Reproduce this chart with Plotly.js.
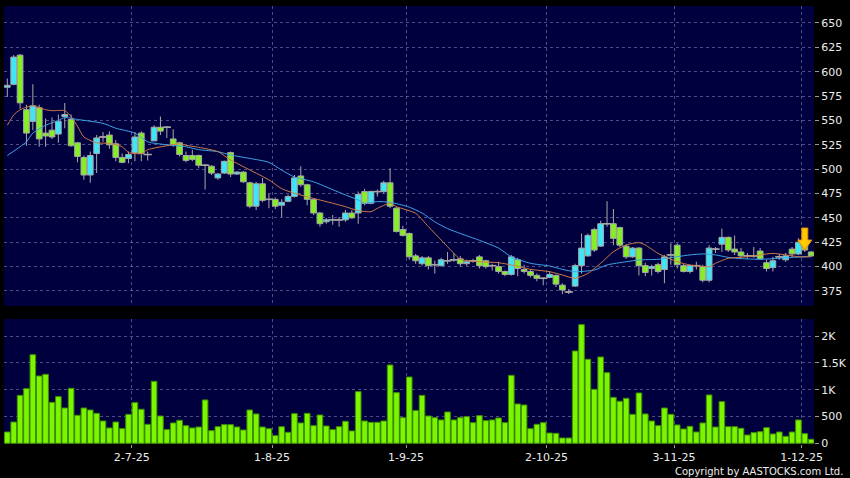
<!DOCTYPE html>
<html>
<head>
<meta charset="utf-8">
<script src="https://cdn.plot.ly/plotly-3.0.1.min.js"></script>
<style>html,body{margin:0;padding:0;background:#000;}#chart{width:850px;height:478px;}</style>
</head>
<body>
<div id="chart"></div>
<script>
// Trading days (HKEX), 3 Jun 2025 – 2 Dec 2025
const dates = [
 '2025-06-03','2025-06-04','2025-06-05','2025-06-06','2025-06-09','2025-06-10','2025-06-11','2025-06-12','2025-06-13','2025-06-16',
 '2025-06-17','2025-06-18','2025-06-19','2025-06-20','2025-06-23','2025-06-24','2025-06-25','2025-06-26','2025-06-27','2025-06-30',
 '2025-07-02','2025-07-03','2025-07-04','2025-07-07','2025-07-08','2025-07-09','2025-07-10','2025-07-11','2025-07-14','2025-07-15',
 '2025-07-16','2025-07-17','2025-07-18','2025-07-21','2025-07-22','2025-07-23','2025-07-24','2025-07-25','2025-07-28','2025-07-29',
 '2025-07-30','2025-07-31','2025-08-01','2025-08-04','2025-08-05','2025-08-06','2025-08-07','2025-08-08','2025-08-11','2025-08-12',
 '2025-08-13','2025-08-14','2025-08-15','2025-08-18','2025-08-19','2025-08-20','2025-08-21','2025-08-22','2025-08-25','2025-08-26',
 '2025-08-27','2025-08-28','2025-08-29','2025-09-01','2025-09-02','2025-09-03','2025-09-04','2025-09-05','2025-09-08','2025-09-09',
 '2025-09-10','2025-09-11','2025-09-12','2025-09-15','2025-09-16','2025-09-17','2025-09-18','2025-09-19','2025-09-22','2025-09-23',
 '2025-09-24','2025-09-25','2025-09-26','2025-09-29','2025-09-30','2025-10-02','2025-10-03','2025-10-06','2025-10-08','2025-10-09',
 '2025-10-10','2025-10-13','2025-10-14','2025-10-15','2025-10-16','2025-10-17','2025-10-20','2025-10-21','2025-10-22','2025-10-23',
 '2025-10-24','2025-10-27','2025-10-28','2025-10-30','2025-10-31','2025-11-03','2025-11-04','2025-11-05','2025-11-06','2025-11-07',
 '2025-11-10','2025-11-11','2025-11-12','2025-11-13','2025-11-14','2025-11-17','2025-11-18','2025-11-19','2025-11-20','2025-11-21',
 '2025-11-24','2025-11-25','2025-11-26','2025-11-27','2025-11-28','2025-12-01','2025-12-02'
];
const open = [584,587,617,561,549,563,537,540,536,554, 551,527,512,494,516,533,535,526,512,511,
 517,537,515,529,543,543,531,527,514,514, 514,504,503,491,496,517,495,497,486,462,
 485,469,469,463,467,472,493,484,469,455, 446,448,448,448,455,455,477,465,477,477,
 486,460,438,434,411,403,409,402,401,406, 407,408,403,406,410,406,401,400,395,392,
 407,397,395,391,388,389,391,381,374,380, 401,411,438,421,444,444,440,421,410,419,
 401,398,402,397,412,422,401,395,401,400, 386,418,423,430,418,415,411,411,416,404,
 399,410,407,418,413,424,415];
const high = [593,617,618,566,587,566,552,553,556,568, 556,528,514,518,535,538,539,530,516,518,
 538,539,518,545,554,544,541,528,518,520, 515,505,504,496,509,518,498,498,487,487,
 491,475,471,469,474,494,503,485,470,456, 450,453,451,458,458,477,480,478,479,488,
 501,461,442,435,413,411,411,406,409,415, 414,411,407,408,412,407,403,405,396,412,
 409,402,397,393,389,395,392,383,377,403, 434,434,440,447,467,459,441,423,420,420,
 404,402,404,412,424,424,403,402,405,402, 422,420,439,431,432,419,414,420,419,407,
 410,413,414,420,429,428,416];
const low = [574,586,562,524,540,523,523,531,527,542, 523,507,489,486,496,528,521,508,506,506,
 508,508,509,529,535,532,523,513,507,508, 501,479,494,489,495,492,494,486,460,458,
 466,460,459,451,466,471,482,463,453,441, 444,443,441,446,449,444,463,464,472,475,
 460,435,431,407,403,401,397,393,400,403, 405,400,401,404,398,398,396,393,390,391,
 390,393,389,385,381,388,379,372,372,379, 393,410,415,420,441,422,420,408,409,391,
 390,391,393,383,402,398,394,393,397,384, 384,414,415,415,412,409,408,409,407,395,
 395,407,405,410,412,415,410];
const close = [586,615,568,537,565,531,534,533,549,556, 524,513,494,514,532,533,525,512,507,515,
 533,516,515,543,539,543,525,515,509,510, 504,504,496,495,508,495,497,487,462,485,
 468,469,462,466,472,491,484,469,455,444, 448,448,448,455,450,474,465,477,477,486,
 462,436,432,410,406,409,401,402,407,406, 407,403,405,406,401,400,401,395,392,410,
 398,395,391,388,388,392,382,376,374,401, 419,432,417,444,444,429,422,410,419,401,
 394,400,395,410,412,402,395,401,401,386, 419,418,430,417,415,411,411,411,408,398,
 406,410,411,413,425,417,411];
const volume = [211,397,894,1019,1652,1255,1286,764,870,658, 1025,522,658,621,559,416,286,397,273,540,
 758,634,354,1155,509,255,379,429,329,286, 304,808,236,310,348,348,304,248,621,547,
 304,273,143,310,205,553,379,559,329,528, 323,255,310,410,230,963,416,391,391,416,
 1460,944,478,1236,609,894,509,478,435,584, 435,478,497,385,516,422,435,472,385,1267,
 733,714,273,354,385,192,186,99,99,1721, 2212,1566,1006,1609,1317,857,783,839,540,938,
 547,416,329,658,540,342,267,317,211,379, 901,304,777,310,310,280,155,199,217,292,
 174,211,130,211,435,180,75];
// Moving averages (trading-day number, value)
const ma10Day = [0,1,2,4,6,7,9,10,11,12,14,16,18,19,21,22,25,27,28,30,33,35,38,41,43,45,48,51,53,55,57,58,60,61,64,66,68,70,71,74,77,79,82,85,87,89,91,93,95,97,99,100,102,105,107,110,111,113,115,118,120,122,124,126];
const ma10 = [545,555.6,561,565,561,560,560,554,544,533,527,526.5,523,517,516,520,524,526,524.5,522.4,518,509.4,499.2,489,480,475.2,470,465,461.5,457.4,456.4,459.8,465,461.5,454.7,441,427.3,413.6,407.5,405,404,401.7,397.2,394.8,391.4,388,393,403.4,415.3,422.2,424.6,422.2,413.6,405,401.7,400,403.4,408.5,409.5,412,413.6,412,410.2,410.2];
const ma20Day = [0,2,3,4,6,8,9,11,15,17,20,22,25,28,30,33,35,38,41,43,45,48,51,53,55,56,58,60,63,65,67,69,71,74,77,79,82,85,87,89,92,94,97,99,102,105,107,109,111,113,115,118,121,123,126];
const ma20 = [514,523,528,537,545,550,553,551,547,542,537,528,525,523,520,518,514.5,511,507,499,492,487,479,473.5,468.4,465,466.7,466,461,455,446,439,434,427,419,410,403.4,400.6,397.2,394.8,396.5,401.7,405,406.8,407.5,410.2,412,413,412,409.5,408.2,407.5,408.5,409.5,410.2];
const tickDates = ['2025-07-02','2025-08-01','2025-09-01','2025-10-02','2025-11-03','2025-12-01'];
const tickLabels = ['2-7-25','1-8-25','1-9-25','2-10-25','3-11-25','1-12-25'];
const priceTicks = [375,400,425,450,475,500,525,550,575,600,625,650];
const volTicks = [0,500,1000,1500,2000];
const volTickLabels = ['0','500','1K','1.5K','2K'];
const markerDate = '2025-12-01';
const markerPrice = 417;

const xs = dates.map((d, i) => i);
const idx = d => dates.indexOf(d);

const FONT = 'DejaVu Sans, Verdana, sans-serif';
const GRID = 'rgba(140,140,190,0.55)';
const UP = '#3ee6f6', DOWN = '#86ee24', EDGE = '#a6a6a6';

// candle parts derived from OHLC: wick (low..high), body (open..close)
const wickLen = high.map((h, i) => h - low[i]);
const bodyBase = open.map((o, i) => Math.min(o, close[i]));
const bodyLen = open.map((o, i) => Math.abs(close[i] - o));
const bodyColor = open.map((o, i) => close[i] > o ? UP : DOWN);
const dojiX = xs.filter(i => open[i] === close[i]);
const dojiY = dojiX.map(i => close[i]);

const traces = [
  {
    type: 'bar', x: xs, base: low, y: wickLen, width: 0.16,
    xaxis: 'x', yaxis: 'y', hoverinfo: 'skip',
    marker: {color: EDGE, line: {width: 0}}
  },
  {
    type: 'bar', x: xs, base: bodyBase, y: bodyLen, width: 0.9,
    xaxis: 'x', yaxis: 'y', hoverinfo: 'skip',
    marker: {color: bodyColor, line: {color: EDGE, width: 1}}
  },
  {
    type: 'scatter', mode: 'markers', x: dojiX, y: dojiY, xaxis: 'x', yaxis: 'y', hoverinfo: 'skip',
    marker: {symbol: 'line-ew', size: 6, line: {color: EDGE, width: 1.5}}
  },
  {
    type: 'scatter', mode: 'lines', x: ma20Day, y: ma20, xaxis: 'x', yaxis: 'y',
    line: {color: '#3fa4e6', width: 1, shape: 'spline', smoothing: 0.6}, hoverinfo: 'skip'
  },
  {
    type: 'scatter', mode: 'lines', x: ma10Day, y: ma10, xaxis: 'x', yaxis: 'y',
    line: {color: '#cf7c45', width: 1, shape: 'spline', smoothing: 0.6}, hoverinfo: 'skip'
  },
  {
    type: 'bar', x: xs, y: volume, xaxis: 'x', yaxis: 'y2', hoverinfo: 'skip', width: 0.88,
    marker: {color: '#7cf500', line: {color: '#3f8f00', width: 1}}
  }
];

const layout = {
  width: 850, height: 478,
  paper_bgcolor: '#000000', plot_bgcolor: '#00003f',
  margin: {l: 4, r: 36, t: 6, b: 34},
  showlegend: false,
  barmode: 'overlay',
  font: {family: FONT, color: '#ececec', size: 11},
  xaxis: {
    domain: [0, 1], anchor: 'y2', range: [-0.52, 126.44],
    tickmode: 'array', tickvals: tickDates.map(d => idx(d) - 0.5), ticktext: tickLabels,
    showgrid: true, gridcolor: GRID, griddash: '3px,3px', gridwidth: 1,
    ticks: 'outside', ticklen: 3, tickcolor: '#9a9a9a',
    tickfont: {family: FONT, size: 11, color: '#ececec'},
    zeroline: false, showline: false, fixedrange: true
  },
  yaxis: {
    domain: [0.3151, 1], side: 'right', range: [359.6, 667.4],
    tickmode: 'array', tickvals: priceTicks,
    showgrid: true, gridcolor: GRID, griddash: '3px,3px', gridwidth: 1,
    ticks: 'outside', ticklen: 4, tickcolor: '#9a9a9a',
    tickfont: {family: FONT, size: 11, color: '#ececec'},
    zeroline: false, showline: false, fixedrange: true
  },
  yaxis2: {
    domain: [0, 0.2854], side: 'right', range: [-13, 2317],
    tickmode: 'array', tickvals: volTicks, ticktext: volTickLabels,
    showgrid: true, gridcolor: GRID, griddash: '3px,3px', gridwidth: 1,
    ticks: 'outside', ticklen: 4, tickcolor: '#9a9a9a',
    tickfont: {family: FONT, size: 11, color: '#ececec'},
    zeroline: false, showline: false, fixedrange: true
  },
  shapes: [{
    type: 'path', xref: 'x', yref: 'y',
    xsizemode: 'pixel', ysizemode: 'pixel',
    xanchor: idx(markerDate), yanchor: markerPrice,
    path: 'M -3,22 L 3,22 L 3,10 L 7,10 L 0,0 L -7,10 L -3,10 Z',
    fillcolor: '#ffcc00', line: {color: '#f08a00', width: 1}
  }],
  annotations: [{
    xref: 'paper', yref: 'paper', x: 1.038, y: -0.063,
    xanchor: 'right', yanchor: 'middle', showarrow: false,
    text: 'Copyright by AASTOCKS.com Ltd.',
    font: {family: FONT, size: 10, color: '#ececec'}
  }]
};

Plotly.newPlot('chart', traces, layout, {displayModeBar: false, staticPlot: true});
</script>
</body>
</html>
